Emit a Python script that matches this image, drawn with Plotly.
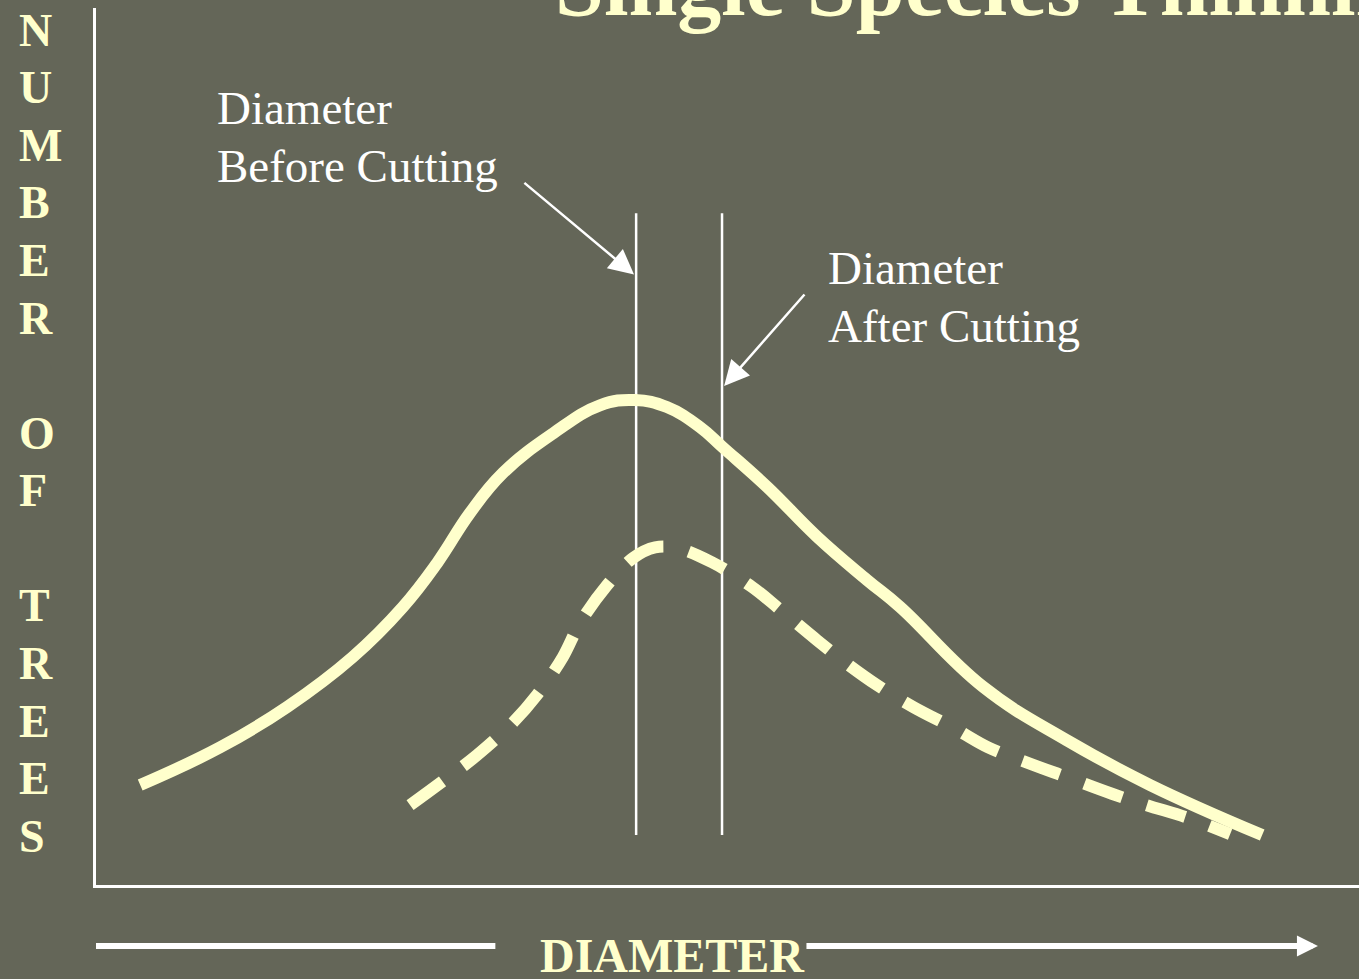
import plotly.graph_objects as go

# curva antes del raleo (diametro vs numero de arboles)
diam_antes = [1.05, 2.95, 4.54, 6.10, 7.29, 8.10, 8.88, 9.67, 10.86, 11.97, 12.80,
              13.56, 14.35, 14.89, 15.94, 17.13, 18.31, 19.10, 21.07, 23.06, 25.04,
              27.70]
arboles_antes = [11.4, 15.7, 20.3, 26.0, 31.7, 36.7, 42.4, 47.0, 51.5, 54.7, 55.3,
                 54.5, 52.2, 49.9, 45.4, 39.7, 34.8, 31.7, 22.6, 16.5, 11.4, 5.7]

# curva despues del raleo
diam_despues = [7.46, 8.34, 9.05, 9.90, 10.48, 11.09, 11.50, 12.14, 12.76, 13.28,
                13.82, 14.63, 15.58, 16.25, 17.13, 17.79, 18.55, 19.41, 20.45, 21.19,
                22.26, 23.06, 24.13, 24.96, 26.03, 26.94]
arboles_despues = [9.1, 12.2, 14.8, 18.5, 21.7, 26.0, 29.9, 34.2, 37.3, 38.5, 38.4,
                   36.8, 34.0, 31.4, 27.9, 25.4, 22.8, 20.3, 17.7, 15.7, 13.7, 12.3,
                   10.4, 9.1, 7.5, 5.8]

# diametros medios
diam_medio_antes = 12.83
diam_medio_despues = 14.87
linea_alto = [5.7, 76.6]

CREMA = '#ffffcc'
FONDO = '#646658'

fig = go.Figure()

for d in [diam_medio_antes, diam_medio_despues]:
    fig.add_trace(go.Scatter(
        x=[d, d], y=linea_alto, mode='lines',
        line=dict(color='white', width=2.5), hoverinfo='skip'
    ))

fig.add_trace(go.Scatter(
    x=diam_antes, y=arboles_antes, mode='lines', name='Antes',
    line=dict(color=CREMA, width=12, shape='spline', smoothing=1.2)
))
fig.add_trace(go.Scatter(
    x=diam_despues, y=arboles_despues, mode='lines', name='Despues',
    line=dict(color=CREMA, width=12, shape='spline', smoothing=1.0, dash='40px,26px')
))

serif = 'Liberation Serif, Times New Roman, serif'

anotaciones = [
    # flechas a las lineas verticales
    dict(x=12.78, y=69.6, ax=10.14, ay=80.2, xref='x', yref='y', axref='x', ayref='y',
         text='', showarrow=True, arrowhead=2, arrowsize=2, arrowwidth=2.5,
         arrowcolor='white'),
    dict(x=14.92, y=56.9, ax=16.86, ay=67.5, xref='x', yref='y', axref='x', ayref='y',
         text='', showarrow=True, arrowhead=2, arrowsize=2, arrowwidth=2.5,
         arrowcolor='white'),
    # flecha del eje x
    dict(x=0.9675, y=-0.0696, ax=-513, ay=0, xref='paper', yref='paper',
         axref='pixel', ayref='pixel', text='', showarrow=True, arrowhead=2,
         arrowsize=0.7, arrowwidth=6, arrowcolor='white'),
]

textos = [
    ('Diameter', 0.0942, 0.8857),
    ('Before Cutting', 0.0942, 0.8198),
    ('Diameter', 0.5780, 0.7035),
    ('After Cutting', 0.5780, 0.6374),
]
for t, x, y in textos:
    anotaciones.append(dict(
        text=t, x=x, y=y, xref='paper', yref='paper', xanchor='left', yanchor='middle',
        showarrow=False, font=dict(family=serif, size=47, color='white')
    ))

# letras verticales del eje y
letras = 'NUMBER OF TREES'
for i, ch in enumerate(letras):
    if ch == ' ':
        continue
    anotaciones.append(dict(
        text='<b>%s</b>' % ch, x=-0.0625, y=(885 - (30 + i * 57.6)) / 877,
        xref='paper', yref='paper', xanchor='left', yanchor='middle', showarrow=False,
        font=dict(family=serif, size=46, color=CREMA)
    ))

anotaciones.append(dict(
    text='<b>DIAMETER</b>', x=0.4561, y=-0.080, xref='paper', yref='paper',
    xanchor='center', yanchor='middle', showarrow=False,
    font=dict(family=serif, size=48, color=CREMA)
))
anotaciones.append(dict(
    text='<b>Single Species Thinning</b>', x=0.3618, y=1.026, xref='paper', yref='paper',
    xanchor='left', yanchor='middle', showarrow=False,
    font=dict(family=serif, size=88, color=CREMA)
))

fig.update_layout(
    width=1359, height=979,
    margin=dict(l=96, r=0, t=8, b=94),
    paper_bgcolor=FONDO, plot_bgcolor=FONDO,
    showlegend=False,
    annotations=anotaciones,
    shapes=[dict(type='line', xref='paper', yref='paper', x0=0, x1=0.3162,
                 y0=-0.0696, y1=-0.0696, line=dict(color='white', width=6))],
    xaxis=dict(range=[0, 30], showgrid=False, zeroline=False, showticklabels=False,
               ticks='', showline=True, linecolor='white', linewidth=3),
    yaxis=dict(range=[0, 100], showgrid=False, zeroline=False, showticklabels=False,
               ticks='', showline=True, linecolor='white', linewidth=3),
)

fig.write_html('out.html', config={'displayModeBar': False},
               post_script="document.body.style.margin='0';"
                           "document.body.style.background='%s';" % FONDO)
